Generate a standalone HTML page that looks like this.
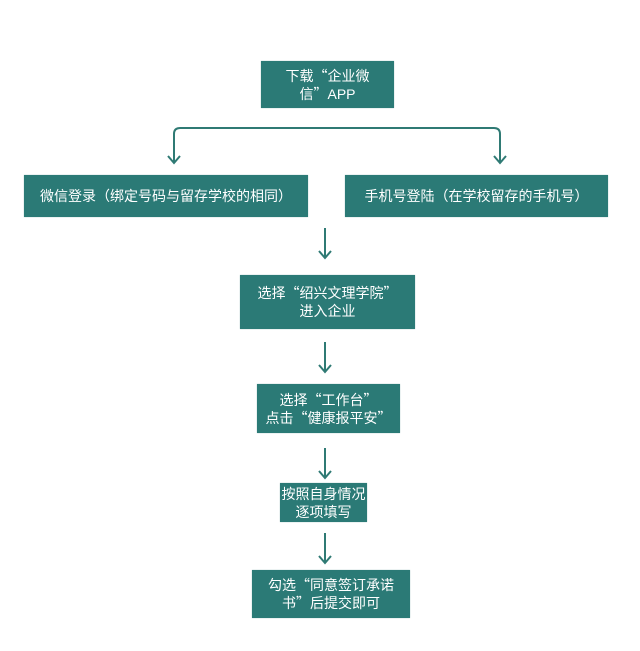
<!DOCTYPE html>
<html><head><meta charset="utf-8"><style>
body{margin:0;width:640px;height:651px;background:#fff;position:relative;overflow:hidden;font-family:"Liberation Sans","Noto Sans CJK SC",sans-serif}
.b{position:absolute;background:#2b7a76;color:#fff;font-size:14px;line-height:18px;display:flex;align-items:center;justify-content:center;text-align:center;box-shadow:0 0 1px #9bb}
.q{font-family:"Noto Sans CJK SC",sans-serif}
svg{position:absolute;left:0;top:0}
</style></head><body>
<svg width="640" height="651" fill="none" stroke="#2f7a74" stroke-width="2">
<path d="M174 163 V134 Q174 128 180 128 H494 Q500 128 500 134 V163"/>
<path d="M168 156 L174 163 L180 156 M494 156 L500 163 L506 156"/>
<path d="M325 228 V258 M319 251 L325 258 L331 251"/>
<path d="M325 342 V372 M319 365 L325 372 L331 365"/>
<path d="M325 448 V478 M319 471 L325 478 L331 471"/>
<path d="M325 533 V563 M319 556 L325 563 L331 556"/>
</svg>
<div class="b" style="left:261px;top:61px;width:133px;height:47px"><span>下载<span class="q">“</span>企业微<br>信<span class="q">”</span>APP</span></div>
<div class="b" style="left:24px;top:175px;width:284px;height:42px">微信登录（绑定号码与留存学校的相同）</div>
<div class="b" style="left:345px;top:175px;width:263px;height:42px">手机号登陆（在学校留存的手机号）</div>
<div class="b" style="left:240px;top:275px;width:175px;height:54px"><span>选择<span class="q">“</span>绍兴文理学院<span class="q">”</span><br>进入企业</span></div>
<div class="b" style="left:257px;top:384px;width:143px;height:49px"><span>选择<span class="q">“</span>工作台<span class="q">”</span><br>点击<span class="q">“</span>健康报平安<span class="q">”</span></span></div>
<div class="b" style="left:280px;top:483px;width:87px;height:39px">按照自身情况<br>逐项填写</div>
<div class="b" style="left:252px;top:570px;width:158px;height:48px"><span>勾选<span class="q">“</span>同意签订承诺<br>书<span class="q">”</span>后提交即可</span></div>
</body></html>
